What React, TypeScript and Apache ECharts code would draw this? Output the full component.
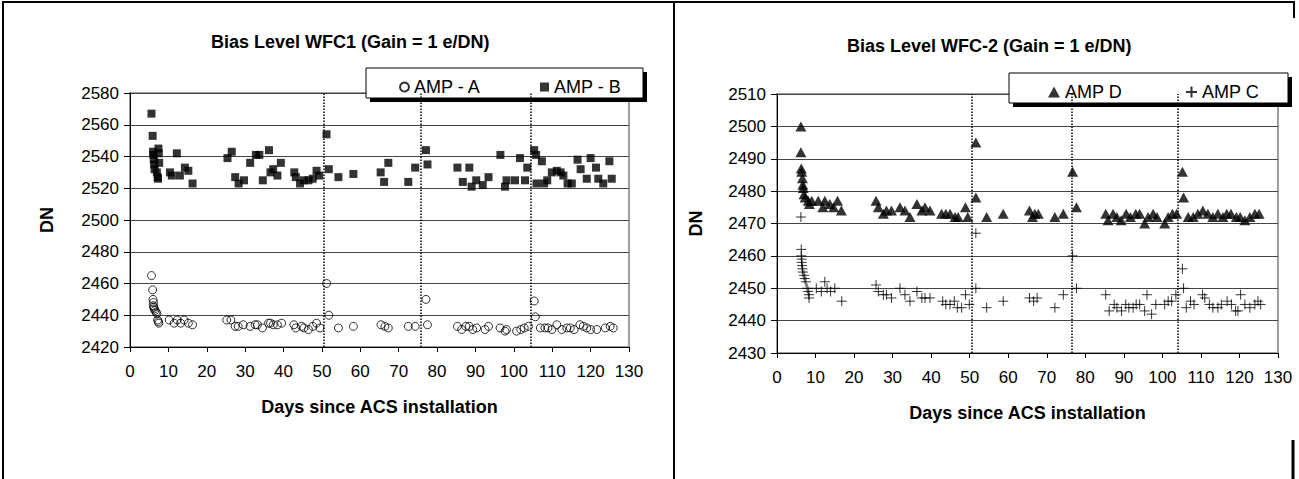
import React, { useEffect, useRef } from "react";
import * as echarts from "echarts";

// ---------- WFC1 (left) ----------
const ampAX = [5.6, 5.9, 6.0, 6.1, 6.1, 6.2, 6.3, 6.5, 6.8, 7.0, 7.2, 7.4, 7.5,
  10.2, 11.5, 12.3, 13.2, 14.1, 15.2, 16.3,
  25.2, 26.3, 27.4, 28.2, 29.5, 31.3, 32.6, 33.2, 34.5, 36.1, 36.6, 37.3, 38.4, 39.5,
  42.7, 43.2, 44.7, 45.3, 46.5, 47.6, 48.6, 49.5, 51.2, 51.8, 54.3, 58.2,
  65.4, 66.4, 67.3, 72.5, 74.3, 77.1, 77.5,
  85.3, 86.4, 87.5, 88.4, 89.3, 90.3, 92.5, 93.4, 96.4, 97.7, 98.1, 100.7, 101.8, 102.7, 103.8,
  105.3, 105.6, 106.9, 108.1, 108.9, 109.9, 111.2, 112.5, 113.8, 114.7, 115.7, 117.2, 118.1,
  119.0, 120.0, 121.6, 123.8, 125.1, 125.9];
const ampAY = [2465, 2456, 2450, 2448, 2446, 2445, 2444, 2443, 2442, 2441, 2437, 2436, 2435,
  2437, 2435, 2437, 2435, 2437, 2435, 2434,
  2437, 2437, 2433, 2433, 2434, 2433, 2434, 2434, 2432, 2435, 2435, 2434, 2434, 2435,
  2434, 2432, 2433, 2432, 2431, 2433, 2435, 2432, 2460, 2440, 2432, 2433,
  2434, 2433, 2432, 2433, 2433, 2450, 2434,
  2433, 2431, 2433, 2433, 2431, 2432, 2431, 2433, 2432, 2430, 2431, 2430, 2431, 2432, 2433,
  2449, 2439, 2432, 2432, 2432, 2431, 2434, 2431, 2432, 2432, 2431, 2434, 2433,
  2432, 2431, 2431, 2432, 2433, 2432];

const ampBX = [5.6, 5.9, 6.0, 6.1, 6.2, 6.3, 6.4, 7.4, 7.5, 7.6, 7.0, 7.2, 7.3,
  10.4, 10.9, 12.2, 13.0, 14.3, 15.2, 16.3,
  25.4, 26.5, 27.4, 28.3, 29.7, 31.3, 32.8, 33.7, 34.6, 36.2, 36.6, 37.3, 38.4, 39.3,
  42.8, 43.2, 44.3, 45.3, 46.5, 47.6, 48.6, 49.3, 51.2, 51.8, 54.3, 58.2,
  65.3, 66.2, 67.3, 72.5, 74.3, 77.1, 77.5,
  85.3, 86.7, 88.4, 89.0, 90.2, 91.9, 93.4, 96.5, 97.7, 98.1, 100.3, 101.6, 102.9, 103.5,
  105.3, 105.8, 105.9, 107.3, 107.9, 108.7, 109.9, 111.2, 112.2, 112.9, 114.0, 115.1,
  116.6, 117.4, 119.0, 120.0, 121.4, 122.0, 123.3, 124.9, 125.5];
const ampBY = [2567, 2553, 2543, 2541, 2538, 2535, 2532, 2545, 2542, 2536, 2530, 2527, 2526,
  2530, 2528, 2542, 2528, 2533, 2531, 2523,
  2539, 2543, 2527, 2523, 2525, 2536, 2541, 2541, 2525, 2544, 2530, 2532, 2528, 2536,
  2530, 2527, 2523, 2525, 2525, 2526, 2531, 2528, 2554, 2532, 2527, 2529,
  2530, 2524, 2536, 2524, 2533, 2544, 2535,
  2533, 2524, 2533, 2521, 2525, 2522, 2527, 2541, 2521, 2525, 2525, 2539, 2525, 2533,
  2544, 2541, 2523, 2537, 2523, 2525, 2530, 2531, 2530, 2528, 2523, 2523,
  2538, 2532, 2526, 2539, 2533, 2526, 2523, 2537, 2526];

const leftMarks = [50.5, 75.8, 104.4];

// ---------- WFC-2 (right) ----------
const ampDX = [6.2, 6.2, 6.3, 6.4, 6.6, 6.7, 6.8, 7.0, 7.3, 8.1, 8.4, 9.0, 10.7, 11.9, 12.4, 13.7, 14.7, 15.7, 16.7,
  25.7, 26.3, 27.6, 28.4, 29.7, 31.9, 33.2, 34.5, 36.3, 37.6, 38.4, 39.7,
  42.7, 43.8, 44.9, 46.2, 47.0, 48.9, 49.5, 51.6, 51.6, 54.4, 58.7,
  65.5, 66.3, 66.9, 67.8, 72.1, 74.3, 76.7, 77.7,
  85.3, 85.9, 87.2, 88.2, 89.3, 90.6, 91.7, 93.1, 94.1, 95.4, 96.3, 97.6, 98.6, 100.6, 101.5, 102.6, 103.7,
  105.2, 105.5, 106.7, 108.0, 109.2, 110.5, 111.8, 113.1, 114.4, 115.7, 116.7, 117.8, 119.2, 120.2,
  121.4, 122.7, 124.0, 125.1];
const ampDY = [2500, 2492, 2487, 2486, 2484, 2482, 2481, 2479, 2478, 2477, 2476, 2477, 2477, 2475, 2477, 2476, 2475, 2477, 2474,
  2477, 2475, 2473, 2474, 2474, 2475, 2474, 2472, 2476, 2474, 2475, 2474,
  2473, 2473, 2473, 2472, 2472, 2475, 2472, 2495, 2478, 2472, 2473,
  2474, 2472, 2473, 2473, 2472, 2473, 2486, 2475,
  2473, 2471, 2473, 2472, 2471, 2473, 2472, 2473, 2473, 2470, 2472, 2473, 2472, 2470, 2472, 2473, 2473,
  2486, 2478, 2472, 2472, 2473, 2474, 2473, 2472, 2473, 2472, 2473, 2473, 2472, 2472,
  2471, 2472, 2473, 2473];

const ampCX = [6.2, 6.3, 6.3, 6.4, 6.4, 6.5, 6.6, 6.7, 7.0, 7.2, 7.5, 7.8, 8.1, 8.3, 8.3,
  10.2, 11.5, 12.4, 13.0, 13.9, 15.0, 16.8,
  25.7, 26.3, 27.6, 28.4, 29.7, 31.9, 33.2, 34.5, 36.3, 37.6, 38.4, 39.7,
  43.0, 43.8, 44.9, 46.0, 46.8, 47.9, 48.9, 49.9, 51.6, 51.6, 54.4, 58.7,
  65.5, 66.6, 67.5, 72.1, 74.3, 76.7, 77.7,
  85.3, 86.2, 87.5, 88.2, 89.4, 90.5, 91.3, 92.4, 93.2, 94.1, 95.4, 96.0, 97.2, 98.3, 100.6, 101.5, 102.4, 103.5,
  105.2, 105.5, 106.2, 107.3, 108.2, 110.4, 111.0, 112.2, 113.1, 114.4, 115.3, 116.8, 117.9, 119.0, 119.6,
  120.3, 121.4, 122.7, 124.0, 124.8, 125.5];
const ampCY = [2472, 2462, 2460, 2459, 2458, 2457, 2456, 2455, 2454, 2453, 2452, 2450, 2449, 2448, 2447,
  2450, 2449, 2452, 2450, 2449, 2450, 2446,
  2451, 2449, 2448, 2448, 2447, 2450, 2448, 2446, 2449, 2447, 2447, 2447,
  2446, 2445, 2445, 2446, 2444, 2444, 2448, 2445, 2467, 2450, 2444, 2446,
  2447, 2446, 2447, 2444, 2448, 2460, 2450,
  2448, 2443, 2445, 2444, 2443, 2445, 2444, 2444, 2445, 2445, 2443, 2448, 2442, 2445, 2445, 2446, 2446, 2448,
  2456, 2450, 2444, 2446, 2445, 2448, 2447, 2445, 2444, 2444, 2445, 2446, 2445, 2443, 2443,
  2448, 2445, 2444, 2445, 2446, 2445];

const rightMarks = [50.5, 76.6, 104.1];

const xTicks = { min: 0, max: 130, interval: 10 };
const leftY = { min: 2420, max: 2580, interval: 20 };
const rightY = { min: 2430, max: 2510, interval: 10 };

const pair = (xs: number[], ys: number[]) => xs.map((x, i) => [x, ys[i]]);

export default function App() {
  const ref = useRef<HTMLDivElement>(null);
  useEffect(() => {
    const chart = echarts.init(ref.current!, null, { renderer: "svg" });
    const font = "'Liberation Sans', Arial, sans-serif";
    const lbl = { color: "#000", fontSize: 17, fontFamily: font };
    const bold = { color: "#000", fontSize: 18, fontWeight: "bold", fontFamily: font };

    const xAxisBase = (gi: number) => ({
      gridIndex: gi,
      type: "value",
      ...xTicks,
      axisLine: { show: true, onZero: false, lineStyle: { color: "#000", width: 1 } },
      axisTick: { show: true, inside: false, length: 5, lineStyle: { color: "#000" } },
      axisLabel: { ...lbl, margin: 16, formatter: (v: number) => String(v) },
      splitLine: { show: false },
      name: "Days since ACS installation",
      nameLocation: "middle",
      nameGap: 51,
      nameTextStyle: bold,
    });
    const yAxisBase = (gi: number, r: any, gap: number) => ({
      gridIndex: gi,
      type: "value",
      ...r,
      axisLine: { show: true, onZero: false, lineStyle: { color: "#000", width: 1 } },
      axisTick: { show: true, inside: false, length: 6, lineStyle: { color: "#000" } },
      axisLabel: { ...lbl, margin: 11, formatter: (v: number) => String(v) },
      splitLine: { show: true, lineStyle: { color: "#444", width: 1 } },
      name: "DN",
      nameLocation: "middle",
      nameGap: gap,
      nameRotate: 90,
      nameTextStyle: bold,
    });

    const markLine = (vals: number[]) => ({
      silent: true,
      symbol: ["none", "none"],
      label: { show: false },
      lineStyle: { type: "dotted", color: "#000", width: 1.5 },
      data: vals.map((v) => ({ xAxis: v })),
    });

    const legendText = { color: "#000", fontSize: 18, fontFamily: font };

    const option: any = {
      animation: false,
      backgroundColor: "#fff",
      title: [
        { text: "Bias Level WFC1 (Gain = 1 e/DN)", left: 206, top: 28, textStyle: bold },
        { text: "Bias Level WFC-2 (Gain = 1 e/DN)", left: 842, top: 32, textStyle: bold },
      ],
      legend: [
        { data: ["AMP - A"], left: 394, top: 73, itemWidth: 9, itemHeight: 9, itemGap: 0, selectedMode: false, textStyle: legendText, z: 6 },
        { data: ["AMP - B"], left: 535, top: 73, itemWidth: 9, itemHeight: 9, itemGap: 0, selectedMode: false, textStyle: legendText, z: 6 },
        { data: ["AMP D"], left: 1043, top: 78, itemWidth: 12, itemHeight: 11, itemGap: 0, selectedMode: false, textStyle: legendText, z: 6 },
        { data: ["AMP C"], left: 1180, top: 78, itemWidth: 11, itemHeight: 11, itemGap: 0, selectedMode: false, textStyle: legendText, z: 6 },
      ],
      grid: [
        { left: 130, top: 93, width: 499, height: 254, show: true, borderColor: "#808080", borderWidth: 1.5 },
        { left: 777, top: 94, width: 501, height: 259, show: true, borderColor: "#808080", borderWidth: 1.5 },
      ],
      xAxis: [xAxisBase(0), xAxisBase(1)],
      yAxis: [yAxisBase(0, leftY, 74), yAxisBase(1, rightY, 72)],
      series: [
        {
          name: "AMP - A", type: "scatter", xAxisIndex: 0, yAxisIndex: 0,
          data: pair(ampAX, ampAY), symbol: "circle", symbolSize: 8,
          itemStyle: { color: "rgba(255,255,255,0)", borderColor: "#000", borderWidth: 1 },
        },
        {
          name: "AMP - B", type: "scatter", xAxisIndex: 0, yAxisIndex: 0,
          data: pair(ampBX, ampBY), symbol: "rect", symbolSize: 8,
          itemStyle: { color: "#000" },
          markLine: markLine(leftMarks),
        },
        {
          name: "AMP D", type: "scatter", xAxisIndex: 1, yAxisIndex: 1,
          data: pair(ampDX, ampDY), symbol: "triangle", symbolSize: [11, 10],
          itemStyle: { color: "#000" },
          markLine: markLine(rightMarks),
        },
        {
          name: "AMP C", type: "scatter", xAxisIndex: 1, yAxisIndex: 1,
          data: pair(ampCX, ampCY), symbol: "path://M5 0L5 10M0 5L10 5", symbolSize: 10,
          itemStyle: { color: "rgba(255,255,255,0)", borderColor: "#000", borderWidth: 1 },
        },
      ],
      graphic: [
        { type: "rect", z: 3, silent: true, shape: { x: 370, y: 72, width: 277, height: 30 }, style: { fill: "#000" } },
        { type: "rect", z: 3, silent: true, shape: { x: 366, y: 68, width: 277, height: 30 }, style: { fill: "#fff", stroke: "#000", lineWidth: 1 } },
        { type: "rect", z: 3, silent: true, shape: { x: 1013, y: 77, width: 279, height: 30 }, style: { fill: "#000" } },
        { type: "rect", z: 3, silent: true, shape: { x: 1009, y: 73, width: 279, height: 30 }, style: { fill: "#fff", stroke: "#000", lineWidth: 1 } },
        { type: "rect", z: 10, silent: true, shape: { x: 3, y: 2, width: 671, height: 540 }, style: { fill: "none", stroke: "#000", lineWidth: 2 } },
        { type: "line", z: 10, silent: true, shape: { x1: 674, y1: 2, x2: 1295, y2: 2 }, style: { stroke: "#000", lineWidth: 2 } },
        { type: "line", z: 10, silent: true, shape: { x1: 1294, y1: 2, x2: 1294, y2: 18 }, style: { stroke: "#000", lineWidth: 2 } },
        { type: "line", z: 10, silent: true, shape: { x1: 1293, y1: 440, x2: 1293, y2: 479 }, style: { stroke: "#000", lineWidth: 3 } },
      ],
    };
    chart.setOption(option);
    return () => chart.dispose();
  }, []);
  return (
    <div
      ref={ref}
      style={{ position: "fixed", left: 0, top: 0, width: 1299, height: 479, background: "#fff" }}
    />
  );
}
